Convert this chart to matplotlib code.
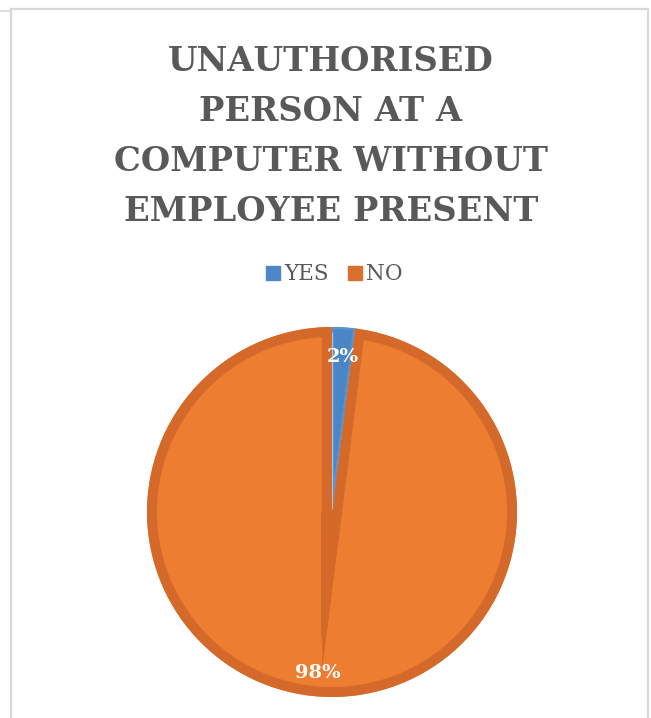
import numpy as np
import matplotlib.pyplot as plt
from matplotlib.patches import Wedge, Polygon
from matplotlib.lines import Line2D

# dados do gráfico
categorias = ["YES", "NO"]
valores = [2, 98]
rotulos = ["2%", "98%"]
cores = ["#4a86c5", "#ed7d31"]
cores_borda = ["#5b93cf", "#d4692a"]
cores_legenda = ["#4f87c6", "#d8702e"]

W, H = 651, 718
fig = plt.figure(figsize=(W / 100, H / 100), dpi=100)
fig.patch.set_facecolor("white")

# moldura cinza do gráfico
cinza = "#d9d9d9"
fig.add_artist(Line2D([11 / W, 648 / W], [1 - 8.5 / H, 1 - 8.5 / H], color=cinza, lw=1.6))
fig.add_artist(Line2D([11 / W, 11 / W], [0, 1 - 8.5 / H], color=cinza, lw=1.6))
fig.add_artist(Line2D([647.5 / W, 647.5 / W], [0, 1 - 8.5 / H], color=cinza, lw=1.6))
fig.add_artist(Line2D([0, 11 / W], [1 - 10.5 / H, 1 - 10.5 / H], color=cinza, lw=1.2))

# título (baseline da última linha)
titulo = "UNAUTHORISED\nPERSON AT A\nCOMPUTER WITHOUT\nEMPLOYEE PRESENT"
fig.text(331 / W, 1 - 221 / H, titulo, ha="center", va="baseline", fontsize=24.3,
         fontweight="bold", family="DejaVu Serif", color="#595959", linespacing=1.66,
         multialignment="center")

# pizza
cx, cy, r = 332, 512, 185
ax = fig.add_axes([(cx - r) / W, 1 - (cy + r) / H, 2 * r / W, 2 * r / H])
fatias, _ = ax.pie(valores, colors=cores, startangle=90, counterclock=False, radius=1)
ax.set_xlim(-1, 1)
ax.set_ylim(-1, 1)
ax.set_aspect("equal")
ax.axis("off")

bisel = 10  # px
for i, w in enumerate(fatias):
    w.set_edgecolor("none")
    lw = 2 * bisel * 0.72 if i == 1 else 3
    contorno = Wedge(w.center, w.r, w.theta1, w.theta2, facecolor="none",
                     edgecolor=cores_borda[i], lw=lw)
    ax.add_patch(contorno)
    contorno.set_clip_path(w)

# brilho na borda esquerda da fatia YES
ax.plot([0, 0], [0.02, 0.97], color="#b8d0ec", lw=0.8, alpha=0.8)

# faixa escura do bisel que desce abaixo do centro
b = bisel / r
faixa = Polygon([(-1.1 * b, 0.0), (0.1 * b, 0.0), (-1.1 * b, -0.71)], closed=True,
                facecolor=cores_borda[1], edgecolor="none", zorder=1.5)
ax.add_patch(faixa)

# rótulos de dados
pos = [(0.06, 0.84), (-0.075, -0.87)]
for (x, y), t in zip(pos, rotulos):
    ax.text(x, y, t, ha="center", va="center", color="white", fontsize=14,
            fontweight="bold", family="DejaVu Serif")

# legenda
ax_leg = fig.add_axes([0, 0, 1, 1])
ax_leg.set_xlim(0, W)
ax_leg.set_ylim(H, 0)
ax_leg.axis("off")
leg_x = [266, 348]
for x, nome, c in zip(leg_x, categorias, cores_legenda):
    ax_leg.add_patch(plt.Rectangle((x, 266), 14, 14, color=c))
    ax_leg.text(x + 18, 274, nome, ha="left", va="center", fontsize=15.5,
                family="DejaVu Serif", color="#595959")

fig.savefig("out.png", dpi=100)
